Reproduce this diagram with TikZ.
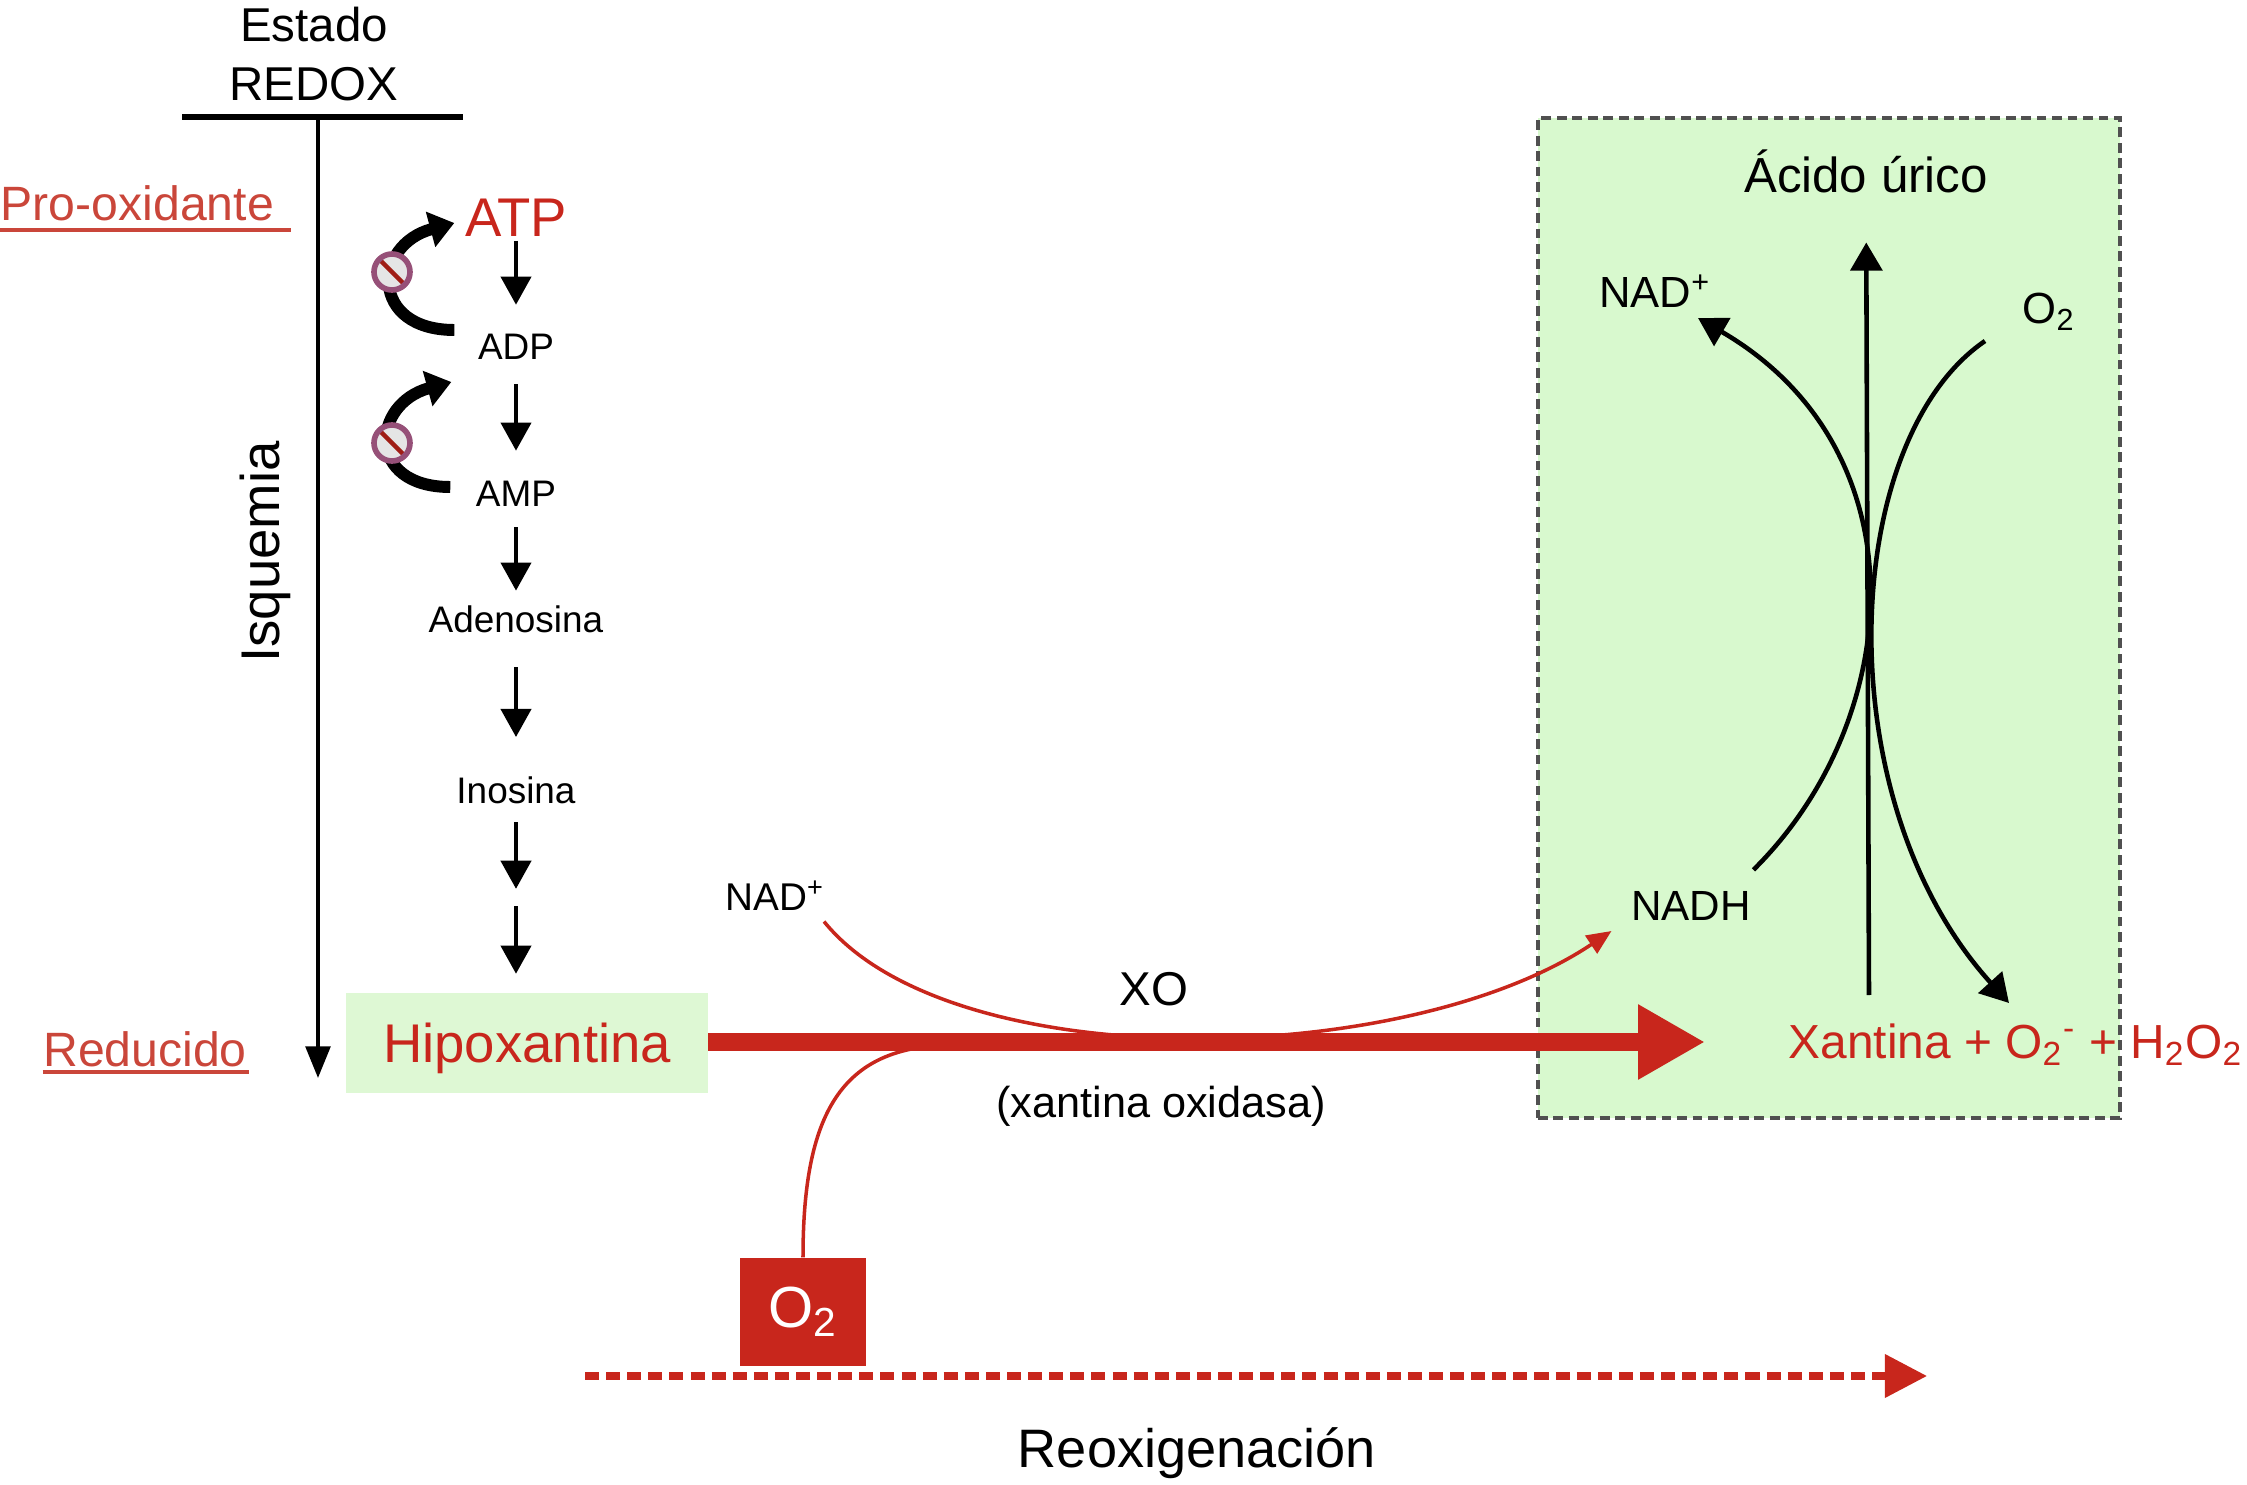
\documentclass[tikz,border=0pt]{standalone}
\usepackage{fontspec}
\setmainfont{Liberation Sans}
\usetikzlibrary{arrows.meta,calc}

\definecolor{xred}{RGB}{200,38,28}
\definecolor{lblred}{RGB}{202,70,58}
\definecolor{boxgreen}{RGB}{216,249,206}
\definecolor{hipgreen}{RGB}{222,248,212}
\definecolor{dashgray}{RGB}{80,80,80}

\begin{document}
\begin{tikzpicture}
  [x=0.01cm,y=-0.01cm,
   txtN/.style={inner sep=0pt},
   smallN/.style={inner sep=0pt,font=\fontsize{10.5}{12}\selectfont},
   labelN/.style={inner sep=0pt,text=lblred,font=\fontsize{13.7}{16}\selectfont},
   downA/.style={-{Triangle[width=8.5pt,length=8pt]},line width=1.3pt},
   cycleA/.style={-{Triangle[width=10pt,length=7pt]},line width=3.4pt},
   nosign/.style={circle,minimum size=0.36cm,inner sep=0pt,fill=gray!20,
     draw={rgb,255:red,150;green,80;blue,120},line width=1.6pt,
     path picture={\draw[xred!80!black,line width=1.3pt]
       (path picture bounding box.north west) -- (path picture bounding box.south east);}},
   boxA/.style={-{Triangle[width=9pt,length=8pt]},line width=1.3pt},
   thinred/.style={xred,line width=1pt}]

  \useasboundingbox (0,0) rectangle (2247,1485);

  % recuadro verde
  \node[fill=boxgreen,draw=dashgray,line width=1.1pt,dash pattern=on 2.8pt off 1.6pt,
        minimum width=5.82cm,minimum height=9.99cm] (xobox) at (1829,618) {};

  % eje redox
  \node[align=center,font=\fontsize{13.5}{16.8}\selectfont] (redox) at (314,54) {Estado\\REDOX};
  \coordinate (barL) at (182,117);
  \coordinate (barR) at (463,117);
  \coordinate (axTop) at (318,117);
  \coordinate (axEnd) at (318,1078);
  \draw[line width=1.7pt] (barL) -- (barR);
  \draw[-{Triangle[width=7pt,length=9pt]},line width=1.1pt] (axTop) -- (axEnd);

  \node[labelN,anchor=base west] (prox) at (0,221) {Pro-oxidante};
  \draw[lblred,line width=1.2pt] ($(prox.base west)+(0,9)$) -- ++(291,0);
  \node[labelN,anchor=base] (reduc) at (145,1066) {Reducido};
  \draw[lblred,line width=1.2pt] ($(reduc.base west)+(0,6)$) -- ($(reduc.base east)+(2,6)$);
  \node[txtN,rotate=90,font=\fontsize{15.5}{18}\selectfont] (isq) at (265,552) {Isquemia};

  % degradacion del ATP
  \node[txtN,text=xred,font=\fontsize{15.5}{18}\selectfont] (atp) at (516,218) {ATP};
  \node[smallN] (adp) at (516,347) {ADP};
  \node[smallN] (amp) at (516,494) {AMP};
  \node[smallN] (ado) at (516,619) {Adenosina};
  \node[smallN] (ino) at (516,790) {Inosina};
  \coordinate (gap) at (516,898);
  \node[fill=hipgreen,minimum width=3.61cm,minimum height=0.99cm,text depth=0pt,
        text=xred,font=\fontsize{15.5}{18}\selectfont] (hip) at (527,1043) {Hipoxantina};

  \draw[downA,shorten <=1pt,shorten >=8.2pt] (atp) -- (adp);
  \draw[downA,shorten <=6.8pt,shorten >=8.5pt] (adp) -- (amp);
  \draw[downA,shorten <=5.7pt,shorten >=4pt] (amp) -- (ado);
  \draw[downA,shorten <=9.7pt,shorten >=11pt] (ado) -- (ino);
  \draw[downA,shorten <=5.1pt,shorten >=2.6pt] (ino) -- (gap);
  \draw[downA,shorten <=2.3pt,shorten >=5.4pt] (gap) -- (gap |- hip.north);

  \draw[cycleA] ($(adp.west)+(-23,-17)$) .. controls +(-85,0) and +(-82,22) .. ($(atp.west)+(-10,5)$);
  \draw[cycleA] ($(amp.west)+(-25,-7)$) .. controls +(-85,0) and +(-80,22) .. ($(adp.west)+(-26,35)$);
  \node[nosign] (ns1) at (392,272) {};
  \node[nosign] (ns2) at (392,443) {};

  % reaccion de la xantina oxidasa
  \node[txtN,anchor=base west,text=xred,font=\fontsize{13.6}{17}\selectfont] (xan) at (1788,1058)
    {Xantina + O\textsubscript{2}\textsuperscript{-} + H\textsubscript{2}O\textsubscript{2}};
  \node[txtN,font=\fontsize{11}{13}\selectfont] (nadL) at (775,896) {NAD\textsuperscript{+}};
  \node[txtN,font=\fontsize{12}{14}\selectfont] (nadh) at (1691,906) {NADH};
  \node[txtN,font=\fontsize{13.5}{16}\selectfont] (xo) at (1154,989) {XO};
  \node[txtN,font=\fontsize{12.3}{15}\selectfont] (xoname) at (1161,1106) {(xantina oxidasa)};
  \node[fill=xred,minimum width=1.25cm,minimum height=1.08cm,text=white,
        font=\fontsize{16.5}{20}\selectfont] (o2b) at (803,1312) {O\textsubscript{2}};
  \coordinate (join) at (955,1045);
  \coordinate (xanhead) at (1705,1042);

  \draw[xred,line width=5pt,-{Triangle[width=20pt,length=19pt]}] (hip.east |- xanhead) -- (xanhead);
  \draw[thinred,-{Triangle[width=6pt,length=7pt]}] ($(nadL.south)+(49,10)$)
    .. controls +(126,156) and +(-208,139) .. ($(nadh.west)+(-19,25)$);
  \draw[thinred] (o2b.north) .. controls +(0,-150) and +(-110,0) .. (join);

  % reoxigenacion
  \coordinate (reoxS) at (585,1376);
  \coordinate (reoxE) at (1927,1376);
  \draw[xred,line width=2pt,dash pattern=on 4pt off 2pt,-{Triangle[width=12pt,length=12pt]}] (reoxS) -- (reoxE);
  \node[txtN,font=\fontsize{15.4}{18}\selectfont] (reox) at (1197,1453) {Reoxigenación};

  % acido urico
  \node[txtN,font=\fontsize{14}{17}\selectfont] (urico) at (1866,171) {Ácido úrico};
  \node[txtN,font=\fontsize{12.4}{15}\selectfont] (nadR) at (1655,291) {NAD\textsuperscript{+}};
  \node[txtN,font=\fontsize{12.4}{15}\selectfont] (o2R) at (2049,312) {O\textsubscript{2}};
  \coordinate (upS) at (1869,995);
  \coordinate (o2tip) at (2009,1003);
  \draw[boxA,shorten >=14pt] (upS) -- (urico);
  \draw[boxA] ($(nadh.north east)+(2,-21)$) .. controls (1905,720) and (1925,450) .. ($(nadR.center)+(43,27)$);
  \draw[boxA] ($(o2R.center)+(-64,29)$) .. controls (1840,440) and (1825,800) .. (o2tip);

\end{tikzpicture}
\end{document}
